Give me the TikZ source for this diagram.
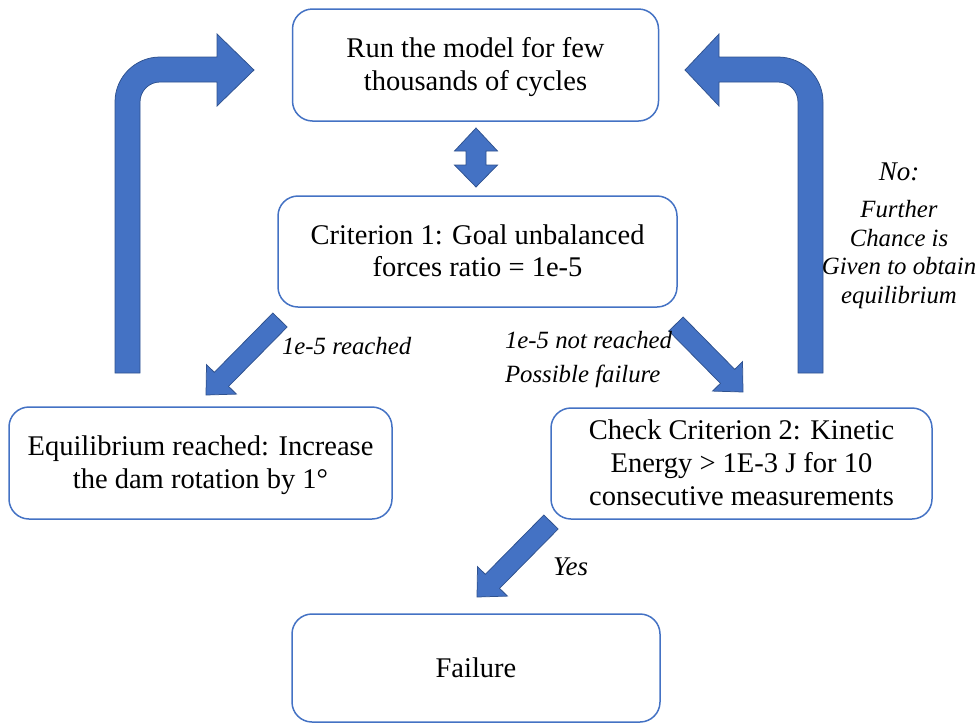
\documentclass[tikz,border=0pt]{standalone}
\usepackage{fontspec}
\setmainfont{Liberation Serif}
\usetikzlibrary{calc}
\definecolor{boxblue}{HTML}{4472C4}
\definecolor{edgeblue}{HTML}{2F528F}
\newcommand\mystrut{\rule[-7.4pt]{0pt}{32.8pt}}
% block arrow from tail #1 to tip #2, helper coordinate name #3
\newcommand\blockarr[3]{%
  \coordinate (#3h) at ($(#2)!22pt!(#1)$);
  \filldraw[barrow] ($(#1)!10pt!90:(#2)$) -- ($(#3h)!10pt!90:(#2)$) -- ($(#3h)!21pt!90:(#2)$) -- (#2)
     -- ($(#3h)!21pt!-90:(#2)$) -- ($(#3h)!10pt!-90:(#2)$) -- ($(#1)!10pt!-90:(#2)$) -- cycle;}
\begin{document}
\begin{tikzpicture}[x=1pt,y=-1pt,
  box/.style={draw=boxblue, line width=1.5pt, fill=white, rounded corners=20pt,
    inner sep=0pt, outer sep=0pt, align=center, font=\fontsize{28.5}{32.8}\selectfont},
  barrow/.style={fill=boxblue, draw=edgeblue, line width=0.75pt, line join=miter},
  lbl/.style={font=\itshape\fontsize{24.8}{28.5}\selectfont, inner sep=0pt, outer sep=0pt}]
\useasboundingbox (0,0) rectangle (980,724);

% boxes
\node[box, minimum width=366pt, minimum height=112pt] (run) at (475.5,65)
  {\mystrut Run the model for few\\\mystrut thousands of cycles};
\node[box, minimum width=399pt, minimum height=111pt] (crit) at (477.5,251.5)
  {\mystrut Criterion 1: Goal unbalanced\\\mystrut forces ratio = 1e-5};
\node[box, minimum width=383pt, minimum height=112pt] (eq) at (200.5,463)
  {\mystrut Equilibrium reached: Increase\\\mystrut the dam rotation by 1°};
\node[box, minimum width=381pt, minimum height=111pt] (chk) at (741.5,463.5)
  {\mystrut Check Criterion 2: Kinetic\\\mystrut Energy > 1E-3 J for 10\\\mystrut consecutive measurements};
\node[box, minimum width=368pt, minimum height=108pt] (fail) at (476,668)
  {\mystrut Failure};

% double arrow between run and crit
\filldraw[barrow] (476,128) -- (497.5,151) -- (486,151) -- (486,165) -- (497.5,165)
  -- (476,187) -- (454.5,165) -- (466,165) -- (466,151) -- (454.5,151) -- cycle;

% left bent arrow (eq -> run)
\coordinate (lb) at (127.5,373);
\filldraw[barrow] (115,373) -- (115,102) arc[start angle=180, end angle=90, radius=45pt]
  -- (217,57) -- (217,34) -- (254,70) -- (217,106) -- (217,82) -- (160,82)
  arc[start angle=90, end angle=180, radius=20pt] -- (140,373) -- cycle;

% right bent arrow (chk -> run)
\coordinate (rb) at (810.5,373);
\filldraw[barrow] (823,373) -- (823,102) arc[start angle=0, end angle=90, radius=45pt]
  -- (719,57) -- (719,34) -- (685,70) -- (719,106) -- (719,82) -- (778,82)
  arc[start angle=90, end angle=0, radius=20pt] -- (798,373) -- cycle;

% diagonal arrows
\coordinate (d1s) at (280,320); \coordinate (d1e) at (206,395);
\coordinate (d2s) at (676,324); \coordinate (d2e) at (743,392);
\coordinate (d3s) at (551,522); \coordinate (d3e) at (477,597);
\blockarr{d1s}{d1e}{da}
\blockarr{d2s}{d2e}{db}
\blockarr{d3s}{d3e}{dc}

% labels
\node[lbl, anchor=base west] (l1) at (282,354) {1e-5 reached};
\node[lbl, anchor=north west, align=left] (l2) at (505,328)
  {\rule{0pt}{20pt}1e-5 not reached\\[6pt]Possible failure};
\node[lbl, anchor=north, align=center] (nolbl) at (899,160)
  {{\fontsize{27}{31}\selectfont No:}\rule{0pt}{20pt}\\[9pt]Further\\Chance is\\Given to obtain\\equilibrium};
\node[lbl, font=\itshape\fontsize{27}{31}\selectfont, anchor=base west] (yes) at (553,575) {Yes};
\end{tikzpicture}
\end{document}
